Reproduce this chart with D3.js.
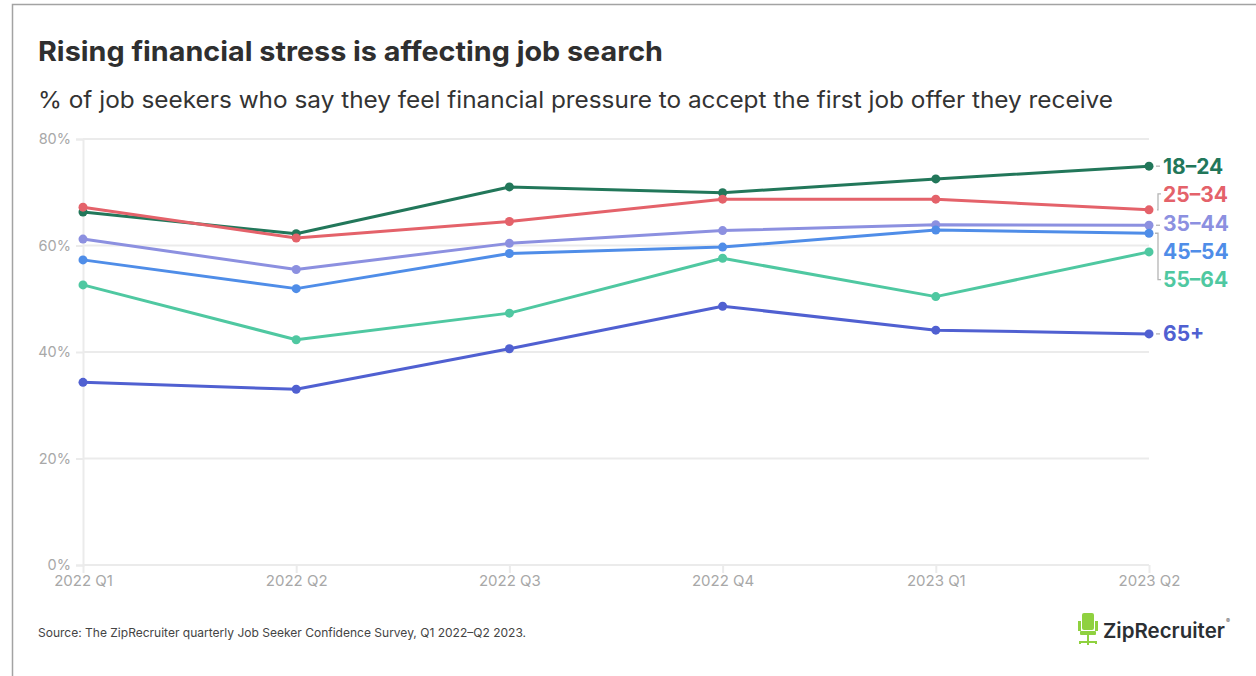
<!DOCTYPE html>
<html>
<head>
<meta charset="utf-8">
<script src="https://cdn.jsdelivr.net/npm/d3@7"></script>
<style>
  html, body { margin: 0; padding: 0; background: #fff; }
  svg { display: block; }
  text { font-family: Inter, "Open Sans", sans-serif; }
</style>
</head>
<body>
<svg id="chart" width="1256" height="676"></svg>
<script>
// Quarters on the x axis
const quarters = ["2022 Q1", "2022 Q2", "2022 Q3", "2022 Q4", "2023 Q1", "2023 Q2"];
// Age groups
const groups = ["18–24", "25–34", "35–44", "45–54", "55–64", "65+"];
// Share of job seekers (%) per age group, by quarter
const age18to24 = [66.3, 62.2, 71.0, 69.9, 72.5, 74.9];
const age25to34 = [67.2, 61.4, 64.5, 68.7, 68.7, 66.7];
const age35to44 = [61.2, 55.5, 60.4, 62.8, 63.9, 63.8];
const age45to54 = [57.3, 51.9, 58.5, 59.7, 62.9, 62.3];
const age55to64 = [52.6, 42.3, 47.3, 57.6, 50.4, 58.8];
const age65plus = [34.3, 33.0, 40.6, 48.6, 44.1, 43.4];
const yTicks = [0, 20, 40, 60, 80];

const seriesValues = [age18to24, age25to34, age35to44, age45to54, age55to64, age65plus];
const colors = ["#22775a", "#e4626a", "#8c90e0", "#4f8de8", "#4fc8a1", "#5060d1"];
// vertical placement of the end labels (in data units, so they stay on the same scale)
const labelAt = [74.9, 69.5, 64.2, 58.9, 53.6, 43.4];

const svg = d3.select("#chart");

// frame
svg.append("path")
  .attr("d", "M12.5,676 L12.5,4.5 L1256,4.5")
  .attr("fill", "none").attr("stroke", "#a3a3a3").attr("stroke-width", 1.5);

// headings
svg.append("text").attr("x", 38).attr("y", 61)
  .attr("font-size", 27.5).attr("font-weight", 700).attr("fill", "#2f2f2f")
  .attr("textLength", 625).attr("lengthAdjust", "spacingAndGlyphs")
  .text("Rising financial stress is affecting job search");
svg.append("text").attr("x", 38).attr("y", 108)
  .attr("font-size", 23).attr("font-weight", 400).attr("fill", "#333")
  .attr("textLength", 1075).attr("lengthAdjust", "spacingAndGlyphs")
  .text("% of job seekers who say they feel financial pressure to accept the first job offer they receive");

const x = d3.scalePoint().domain(quarters).range([83, 1149]);
const y = d3.scaleLinear().domain([0, 80]).range([565, 139]);

// horizontal grid + y labels
const yAxis = svg.append("g").attr("transform", "translate(83,0)")
  .call(d3.axisLeft(y).tickValues(yTicks).tickSize(7).tickFormat(d => d + "%").tickPadding(5));
yAxis.select(".domain").attr("stroke", "#ebebeb").attr("stroke-width", 2);
yAxis.selectAll(".tick line").attr("stroke", "#ebebeb").attr("stroke-width", 2);
yAxis.selectAll(".tick text").attr("fill", "#a8a8a8").attr("font-size", 14.5).attr("font-family", "Inter, sans-serif");
svg.append("g").selectAll("line").data(yTicks).join("line")
  .attr("x1", 83).attr("x2", 1149)
  .attr("y1", d => y(d)).attr("y2", d => y(d))
  .attr("stroke", "#ebebeb").attr("stroke-width", 2);

// x axis
const xAxis = svg.append("g").attr("transform", "translate(0,565)")
  .call(d3.axisBottom(x).tickSize(8).tickPadding(2));
xAxis.select(".domain").remove();
xAxis.selectAll(".tick line").attr("stroke", "#ebebeb").attr("stroke-width", 2);
xAxis.selectAll(".tick text").attr("fill", "#a8a8a8").attr("font-size", 15).attr("font-family", "Inter, sans-serif");

// lines and points
const line = d3.line().x((d, i) => x(quarters[i])).y(d => y(d));
seriesValues.forEach((vals, k) => {
  const g = svg.append("g");
  g.append("path").datum(vals).attr("d", line)
    .attr("fill", "none").attr("stroke", colors[k]).attr("stroke-width", 3)
    .attr("stroke-linejoin", "round");
  g.selectAll("circle").data(vals).join("circle")
    .attr("cx", (d, i) => x(quarters[i])).attr("cy", d => y(d))
    .attr("r", 4.5).attr("fill", colors[k]);
});

// connectors from the last points to the labels
const xEnd = x(quarters[quarters.length - 1]);
const conn = svg.append("g").attr("fill", "none").attr("stroke", "#b5b5b5").attr("stroke-width", 1.3);
[0, 2, 5].forEach(k => {
  const ly = y(seriesValues[k][5]);
  conn.append("line").attr("x1", xEnd + 7).attr("x2", xEnd + 11).attr("y1", ly).attr("y2", ly);
});
conn.append("path").attr("d",
  `M${xEnd + 8},${y(age25to34[5])} L${xEnd + 9},${y(age25to34[5])} L${xEnd + 9},${y(labelAt[1]) - 1} L${xEnd + 12},${y(labelAt[1]) - 1}`);
conn.append("path").attr("d",
  `M${xEnd + 6},${y(age45to54[5])} L${xEnd + 9},${y(age45to54[5])} L${xEnd + 9},${y(labelAt[4])} L${xEnd + 12},${y(labelAt[4])}`);

svg.append("g").selectAll("text").data(groups).join("text")
  .attr("x", xEnd + 14).attr("y", (d, i) => y(labelAt[i]))
  .attr("dy", "0.36em")
  .attr("font-size", 21).attr("font-weight", 700)
  .attr("fill", (d, i) => colors[i])
  .text(d => d);

// source note
svg.append("text").attr("x", 38).attr("y", 637)
  .attr("font-size", 12).attr("fill", "#444")
  .attr("textLength", 488).attr("lengthAdjust", "spacingAndGlyphs")
  .text("Source: The ZipRecruiter quarterly Job Seeker Confidence Survey, Q1 2022–Q2 2023.");

// logo
const logo = svg.append("g").attr("transform", "translate(1078,613)");
const lime = "#8fd13f";
logo.append("rect").attr("x", 4).attr("y", 0).attr("width", 12).attr("height", 17).attr("rx", 2).attr("fill", lime);
logo.append("rect").attr("x", 0).attr("y", 8).attr("width", 3).attr("height", 10).attr("fill", lime);
logo.append("rect").attr("x", 17).attr("y", 8).attr("width", 3).attr("height", 10).attr("fill", lime);
logo.append("rect").attr("x", 2).attr("y", 18).attr("width", 16).attr("height", 4).attr("rx", 1).attr("fill", lime);
logo.append("rect").attr("x", 9).attr("y", 22).attr("width", 2).attr("height", 6).attr("fill", lime);
logo.append("path").attr("d", "M2,31 L2,29 L18,29 L18,31 M10,29 L10,32")
  .attr("fill", "none").attr("stroke", lime).attr("stroke-width", 2);
const brand = logo.append("text").attr("x", 25).attr("y", 25)
  .attr("font-weight", 600).attr("fill", "#2b2f33");
const brandName = brand.append("tspan").attr("font-size", 23).text("ZipRecruiter");
// fit the wordmark to its width
const natural = brandName.node().getComputedTextLength();
brandName.attr("font-size", 23 * 122 / natural);
brand.append("tspan").attr("font-size", 6).attr("font-weight", 400).attr("fill", "#555")
  .attr("dx", 1).attr("dy", -15).text("®");
</script>
</body>
</html>
